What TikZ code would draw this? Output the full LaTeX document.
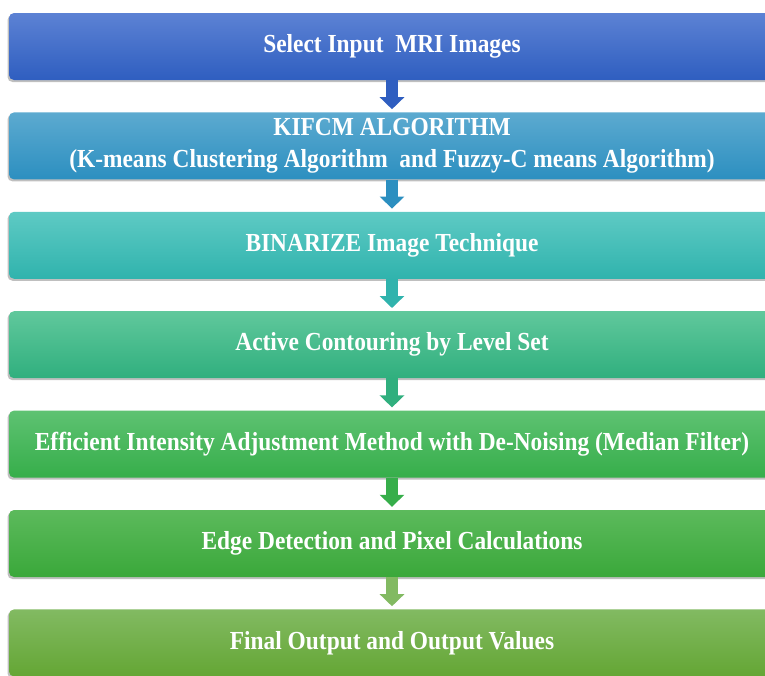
\documentclass[tikz,border=0pt]{standalone}
\usepackage{fontspec}
\setmainfont{Liberation Serif}[FakeStretch=0.9]
\usetikzlibrary{positioning,shadows,arrows.meta}

\definecolor{blueT}{HTML}{5C82D4}
\definecolor{blueB}{HTML}{2F5EC0}
\definecolor{skyT}{HTML}{5CAAD0}
\definecolor{skyB}{HTML}{2C8FC0}
\definecolor{tealT}{HTML}{5ECAC4}
\definecolor{tealB}{HTML}{30B3AD}
\definecolor{mintT}{HTML}{60C89C}
\definecolor{mintB}{HTML}{30AF7E}
\definecolor{leafT}{HTML}{5EC272}
\definecolor{leafB}{HTML}{36AE4A}
\definecolor{grassT}{HTML}{5CBA5C}
\definecolor{grassB}{HTML}{3AA83A}
\definecolor{oliveT}{HTML}{82BA62}
\definecolor{oliveB}{HTML}{64A634}

\tikzset{
    block/.style={rectangle, rounded corners=5pt, minimum width=766pt, minimum height=67pt,
        inner sep=0pt, align=center, text=white,
        font=\fontsize{26}{32}\selectfont\bfseries,
        drop shadow={shadow xshift=-1.5pt, shadow yshift=-2pt, fill=black!50}},
    flow/.style={line width=12pt, shorten >=3pt, -{Triangle[width=24pt,length=12pt]}}
}

\begin{document}
\begin{tikzpicture}[node distance=32pt]
\useasboundingbox (0,0) rectangle (765pt,-675pt);

\node [block, top color=blueT, bottom color=blueB] (select) at (392pt,-46.5pt) {Select Input\ \ MRI Images};
\node [block, top color=skyT, bottom color=skyB, below=of select] (kifcm) {KIFCM ALGORITHM\\(K-means Clustering\ Algorithm\ \ and Fuzzy-C means Algorithm)};
\node [block, top color=tealT, bottom color=tealB, below=of kifcm] (binarize) {BINARIZE Image Technique};
\node [block, top color=mintT, bottom color=mintB, below=of binarize] (contour) {Active Contouring by Level Set};
\node [block, top color=leafT, bottom color=leafB, below=of contour] (adjust) {Efficient Intensity Adjustment\ Method with De-Noising (Median Filter)};
\node [block, top color=grassT, bottom color=grassB, below=of adjust] (edge) {Edge Detection and Pixel Calculations};
\node [block, top color=oliveT, bottom color=oliveB, below=of edge] (final) {Final Output\ and Output\ Values};

% block arrows between the steps
\foreach \a/\b/\c in {select/kifcm/blueB, kifcm/binarize/skyB, binarize/contour/tealB,
    contour/adjust/mintB, adjust/edge/leafB, edge/final/oliveT}
    \draw [flow, \c] (\a) -- (\b);

\end{tikzpicture}
\end{document}
